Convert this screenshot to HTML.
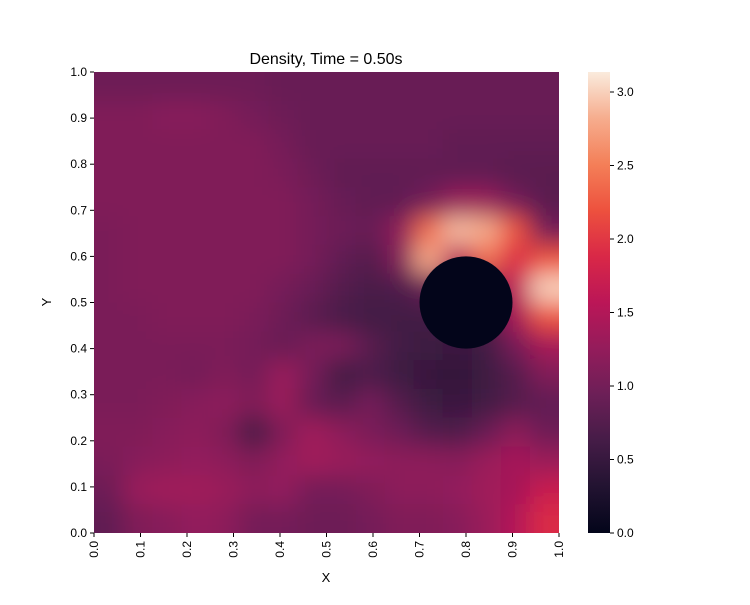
<!DOCTYPE html>
<html><head><meta charset="utf-8"><style>
body{margin:0;background:#fff;}
svg{font-family:"Liberation Sans",sans-serif;}
</style></head><body>
<svg id="chart" width="750" height="600" xmlns="http://www.w3.org/2000/svg">
<defs>
<clipPath id="plotclip"><rect x="94" y="72" width="465" height="461"/></clipPath>
<filter id="smooth" x="0" y="0" width="750" height="600" filterUnits="userSpaceOnUse"><feGaussianBlur stdDeviation="12"/></filter>
<linearGradient id="cbgrad" x1="0" y1="1" x2="0" y2="0"></linearGradient>
</defs>
<text x="326" y="64" font-size="16" text-anchor="middle">Density, Time = 0.50s</text>
<g clip-path="url(#plotclip)"><g id="cells" filter="url(#smooth)"></g></g>
<ellipse id="obstacle" fill="#03051a"/>
<rect id="cbar" x="588" y="72" width="22" height="461" fill="url(#cbgrad)"/>
<g id="axes"></g>
<text x="326" y="582" font-size="13" text-anchor="middle">X</text>
<text x="51" y="302" font-size="13" text-anchor="middle" transform="rotate(-90 51 302)">Y</text>
</svg>
<script>
const densityRows = [
[0.95,0.95,0.95,0.95,0.95,0.95,0.9,0.9,0.9,0.9,0.9,0.9,0.9,0.9,0.9,0.9],
[1.1,1.1,1.15,1.15,1.1,1.0,0.95,0.9,0.9,0.9,0.9,0.9,0.9,0.9,0.9,0.9],
[1.1,1.1,1.1,1.1,1.1,1.1,1.0,0.9,0.9,0.9,0.9,0.9,0.85,0.85,0.85,0.85],
[1.1,1.1,1.1,1.1,1.1,1.1,1.05,0.95,0.85,0.85,0.85,0.85,0.85,0.85,0.8,0.8],
[1.1,1.1,1.1,1.1,1.1,1.1,1.1,1.0,0.9,0.85,0.85,1.0,1.3,1.3,1.0,0.8],
[1.05,1.1,1.1,1.1,1.1,1.1,1.1,1.0,0.95,0.9,1.2,2.4,2.9,2.8,2.2,1.0],
[1.05,1.1,1.1,1.1,1.1,1.1,1.1,1.0,0.85,0.75,1.1,2.8,1.5,2.4,1.9,2.2],
[1.05,1.1,1.1,1.1,1.1,1.1,1.0,0.9,0.75,0.65,0.7,0.9,0.9,1.0,1.6,3.0],
[1.05,1.05,1.1,1.1,1.1,1.05,0.95,0.8,0.65,0.6,0.6,0.6,0.7,0.7,1.4,2.2],
[1.05,1.05,1.05,1.05,1.05,1.0,0.9,1.05,1.05,0.8,0.6,0.55,0.5,0.6,1.0,1.4],
[1.05,1.05,1.05,1.0,1.1,1.0,1.3,1.0,0.6,0.7,0.55,0.5,0.45,0.55,0.75,1.1],
[1.05,1.05,1.1,1.15,1.2,1.1,1.3,0.9,0.8,1.0,0.75,0.55,0.5,0.6,0.75,0.85],
[1.1,1.1,1.15,1.2,1.1,0.6,1.1,1.35,1.2,1.05,0.95,0.75,0.7,0.9,1.2,0.95],
[1.05,1.15,1.2,1.25,1.2,1.1,1.25,1.35,1.3,1.25,1.2,1.2,1.15,1.3,1.4,1.3],
[0.95,1.3,1.35,1.35,1.3,1.2,1.25,1.0,1.0,1.1,1.2,1.2,1.25,1.35,1.4,1.7],
[0.85,1.1,1.15,1.25,1.2,1.0,1.0,0.95,0.95,1.0,1.1,1.1,1.15,1.3,1.5,1.9]
];
const axisTicks = [0,0.1,0.2,0.3,0.4,0.5,0.6,0.7,0.8,0.9,1.0];
const colorbarTicks = [0,0.5,1.0,1.5,2.0,2.5,3.0];
const vMax = 3.136;
const obstacleCenter = [0.8,0.5];
const obstacleRadius = 0.1;

const rocket=[[3,5,26],[34,19,49],[69,28,71],[108,31,87],[148,28,91],[187,22,87],[217,40,71],[237,81,62],[244,127,88],[246,173,142],[250,235,221]];
function cmap(v){let t=Math.max(0,Math.min(1,v/vMax))*10;let i=Math.min(9,Math.floor(t)),f=t-i;const a=rocket[i],b=rocket[i+1];
return `rgb(${a.map((c,k)=>Math.round(c+(b[k]-c)*f)).join(',')})`;}
const X0=94,X1=559,Y0=533,Y1=72;
const sx=v=>X0+v*(X1-X0), sy=v=>Y0-v*(Y0-Y1);
const NS='http://www.w3.org/2000/svg';
function mk(tag,attrs,parent){const e=document.createElementNS(NS,tag);for(const k in attrs)e.setAttribute(k,attrs[k]);parent.appendChild(e);return e;}
const cells=document.getElementById('cells');
const nr=densityRows.length, PAD=50;
densityRows.forEach((row,r)=>{const nc=row.length;row.forEach((v,c)=>{
 let x=sx(c/nc),x2=sx((c+1)/nc),y=sy(1-r/nr),y2=sy(1-(r+1)/nr);
 if(c===0)x-=PAD; if(c===nc-1)x2+=PAD; if(r===0)y-=PAD; if(r===nr-1)y2+=PAD;
 const el=mk('rect',{x:x,y:y,width:x2-x+0.5,height:y2-y+0.5,fill:cmap(v)},cells);
 
 
});});
const ob=document.getElementById('obstacle');
ob.setAttribute('cx',sx(obstacleCenter[0]));ob.setAttribute('cy',sy(obstacleCenter[1]));
ob.setAttribute('rx',obstacleRadius*(X1-X0));ob.setAttribute('ry',obstacleRadius*(Y0-Y1));
const g=document.getElementById('cbgrad');
rocket.forEach((c,i)=>mk('stop',{offset:(i*10)+'%','stop-color':`rgb(${c.join(',')})`},g));
const axes=document.getElementById('axes');
axisTicks.forEach(t=>{
 const x=sx(t);
 mk('line',{x1:x,x2:x,y1:Y0,y2:Y0+4,stroke:'#000'},axes);
 const tx=mk('text',{x:0,y:0,'font-size':12,'text-anchor':'end',transform:`translate(${x+4},${Y0+8}) rotate(-90)`},axes);
 tx.textContent=t.toFixed(1);
 
 
 const y=sy(t);
 mk('line',{x1:X0-4,x2:X0,y1:y,y2:y,stroke:'#000'},axes);
 const ty=mk('text',{x:X0-7,y:y+4,'font-size':12,'text-anchor':'end'},axes);
 ty.textContent=t.toFixed(1);
 
 
});
colorbarTicks.forEach(t=>{
 const y=Y0-t/vMax*(Y0-Y1);
 mk('line',{x1:610,x2:614,y1:y,y2:y,stroke:'#000'},axes);
 const tt=mk('text',{x:617,y:y+4,'font-size':12},axes);
 tt.textContent=t.toFixed(1);
 
 
});
</script>
</body></html>
